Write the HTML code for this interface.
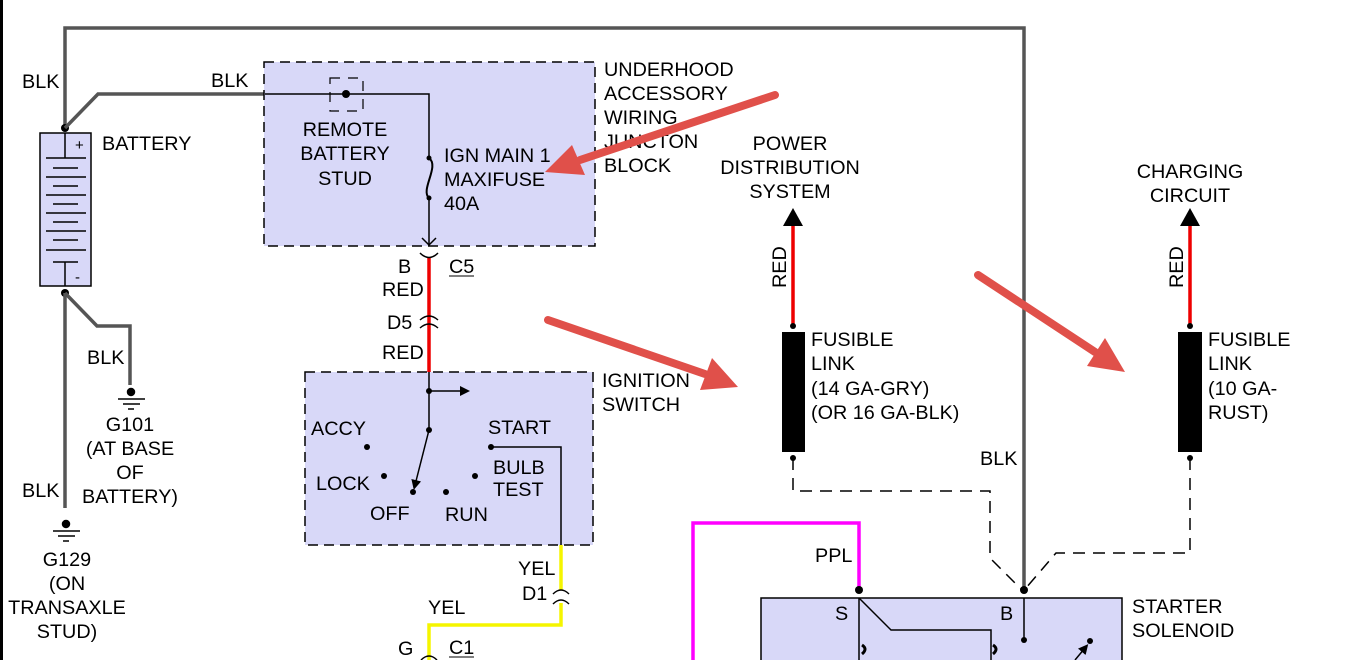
<!DOCTYPE html>
<html><head><meta charset="utf-8"><style>
html,body{margin:0;padding:0;background:#fff;}
svg{display:block;}
text{font-family:"Liberation Sans",Arial,sans-serif;font-size:19.8px;fill:#000;}
</style></head><body>
<svg width="1353" height="660" viewBox="0 0 1353 660" xmlns="http://www.w3.org/2000/svg">
<defs>
<marker id="ah" markerWidth="10" markerHeight="10" refX="5" refY="5" orient="auto" markerUnits="userSpaceOnUse" viewBox="0 0 10 10"><path d="M0,0 L10,5 L0,10 z" fill="#000"/></marker>
</defs>
<rect x="0" y="0" width="3" height="660" fill="#000"/>
<polyline points="65,128 65,28 1024,28 1024,590" fill="none" stroke="#555" stroke-width="3.5"/>
<rect x="40" y="133" width="51" height="153" fill="#d8d8f8" stroke="#000" stroke-width="1.5"/>
<line x1="65" y1="133" x2="65" y2="158" stroke="#000" stroke-width="1.5"/>
<line x1="65" y1="262" x2="65" y2="286" stroke="#000" stroke-width="1.5"/>
<g stroke="#000" stroke-width="1.5">
<line x1="46" y1="158" x2="86" y2="158"/><line x1="53" y1="168" x2="78" y2="168"/>
<line x1="46" y1="177" x2="86" y2="177"/><line x1="53" y1="186" x2="78" y2="186"/>
<line x1="46" y1="195" x2="86" y2="195"/><line x1="53" y1="204" x2="78" y2="204"/>
<line x1="46" y1="213" x2="86" y2="213"/><line x1="53" y1="222" x2="78" y2="222"/>
<line x1="46" y1="231" x2="86" y2="231"/><line x1="53" y1="240" x2="78" y2="240"/>
<line x1="46" y1="250" x2="86" y2="250"/><line x1="53" y1="262" x2="78" y2="262"/>
</g>
<text x="75" y="150" style="font-size:15px">+</text>
<text x="75" y="282" style="font-size:15px">-</text>
<circle cx="65" cy="128" r="4" fill="#000"/>
<circle cx="65" cy="293" r="4" fill="#000"/>
<text x="102" y="150">BATTERY</text>
<text x="22" y="88">BLK</text>
<polyline points="65,128 98,94 265,94" fill="none" stroke="#555" stroke-width="3.5"/>
<text x="211" y="87">BLK</text>
<polyline points="65,293 97,326 130,326 130,385" fill="none" stroke="#555" stroke-width="3.5"/>
<line x1="65" y1="293" x2="65" y2="508" stroke="#555" stroke-width="3.5"/>
<text x="87" y="364">BLK</text>
<text x="22" y="497">BLK</text>
<g stroke="#000" stroke-width="1.5">
<circle cx="131" cy="392" r="3.5" fill="#000"/><line x1="118" y1="399" x2="145" y2="399"/><line x1="123" y1="404" x2="140" y2="404"/><line x1="128" y1="409" x2="134" y2="409"/>
<circle cx="66" cy="524" r="3.5" fill="#000"/><line x1="53" y1="531" x2="80" y2="531"/><line x1="58" y1="536" x2="75" y2="536"/><line x1="63" y1="541" x2="69" y2="541"/>
</g>
<g text-anchor="middle">
<text x="130" y="431">G101</text><text x="130" y="455">(AT BASE</text><text x="130" y="479">OF</text><text x="130" y="503">BATTERY)</text>
<text x="67" y="566">G129</text><text x="67" y="590">(ON</text><text x="67" y="614">TRANSAXLE</text><text x="67" y="638">STUD)</text>
</g>
<rect x="264" y="62" width="331" height="184" fill="#d8d8f8" stroke="#000" stroke-width="1.5" stroke-dasharray="10,6"/>
<rect x="330" y="78" width="33" height="33" fill="none" stroke="#000" stroke-width="1.2" stroke-dasharray="10,8"/>
<polyline points="265,94 429,94 429,158" fill="none" stroke="#000" stroke-width="1.5"/>
<circle cx="346" cy="94" r="4" fill="#000"/>
<path d="M429,158 C440,166 420,190 429,198" fill="none" stroke="#000" stroke-width="2"/>
<circle cx="429" cy="158" r="2.5" fill="#000"/><circle cx="429" cy="198" r="2.5" fill="#000"/>
<line x1="429" y1="198" x2="429" y2="245" stroke="#000" stroke-width="1.5"/>
<polyline points="422,238 429,245 436,238" fill="none" stroke="#000" stroke-width="1.5"/>
<g text-anchor="middle"><text x="345" y="136">REMOTE</text><text x="345" y="160">BATTERY</text><text x="345" y="185">STUD</text></g>
<text x="444" y="162">IGN MAIN 1</text><text x="444" y="186">MAXIFUSE</text><text x="444" y="210">40A</text>
<text x="604" y="76">UNDERHOOD</text><text x="604" y="100">ACCESSORY</text><text x="604" y="124">WIRING</text><text x="604" y="148">JUNCTON</text><text x="604" y="172">BLOCK</text>
<line x1="429" y1="258" x2="429" y2="372" stroke="#e00" stroke-width="3.5"/>
<path d="M420,253 Q429,262 438,253" fill="none" stroke="#000" stroke-width="1.5"/>
<path d="M420,320 Q429,312 438,320 M420,328 Q429,320 438,328" fill="none" stroke="#000" stroke-width="1.5"/>
<text x="398" y="273">B</text><text x="449" y="273">C5</text><line x1="449" y1="276" x2="474" y2="276" stroke="#000"/>
<text x="382" y="296">RED</text><text x="387" y="329">D5</text><text x="382" y="359">RED</text>
<rect x="305" y="372" width="288" height="173" fill="#d8d8f8" stroke="#000" stroke-width="1.5" stroke-dasharray="10,6"/>
<line x1="429" y1="372" x2="429" y2="430" stroke="#000" stroke-width="1.5"/>
<line x1="429" y1="391" x2="465" y2="391" stroke="#000" stroke-width="1.5" marker-end="url(#ah)"/>
<circle cx="429" cy="391" r="3" fill="#000"/><circle cx="429" cy="430" r="3" fill="#000"/>
<line x1="429" y1="430" x2="415" y2="485" stroke="#000" stroke-width="1.5" marker-end="url(#ah)"/>
<g fill="#000"><circle cx="367" cy="447" r="3"/><circle cx="384" cy="476" r="3"/><circle cx="413" cy="492" r="3"/><circle cx="446" cy="492" r="3"/><circle cx="475" cy="476" r="3"/><circle cx="491" cy="447" r="3"/></g>
<polyline points="491,447 561,447 561,545" fill="none" stroke="#000" stroke-width="1.5"/>
<text x="311" y="435">ACCY</text><text x="316" y="490">LOCK</text><text x="370" y="520">OFF</text><text x="445" y="521">RUN</text>
<text x="488" y="434">START</text><text x="493" y="474">BULB</text><text x="493" y="496">TEST</text>
<text x="602" y="387">IGNITION</text><text x="602" y="411">SWITCH</text>
<polyline points="561,545 561,590" fill="none" stroke="#f5f500" stroke-width="3.5"/>
<polyline points="561,603 561,625 429,625 429,660" fill="none" stroke="#f5f500" stroke-width="3.5"/>
<path d="M553,594 Q561,586 569,594 M553,604 Q561,596 569,604" fill="none" stroke="#000" stroke-width="1.5"/>
<text x="518" y="575">YEL</text><text x="522" y="600">D1</text><text x="428" y="614">YEL</text>
<text x="398" y="655">G</text><text x="449" y="654">C1</text><line x1="449" y1="657" x2="474" y2="657" stroke="#000"/>
<path d="M421,660 Q429,652 437,660" fill="none" stroke="#000" stroke-width="1.5"/>
<g text-anchor="middle"><text x="790" y="150">POWER</text><text x="790" y="174">DISTRIBUTION</text><text x="790" y="198">SYSTEM</text>
<text x="1190" y="178">CHARGING</text><text x="1190" y="202">CIRCUIT</text></g>
<polygon points="783,226 803,226 793,208" fill="#000"/>
<line x1="793" y1="226" x2="793" y2="326" stroke="#e00" stroke-width="3.5"/>
<circle cx="793" cy="326" r="3" fill="#000"/>
<rect x="782" y="332" width="23" height="120" fill="#000"/>
<circle cx="793" cy="458" r="3" fill="#000"/>
<text transform="translate(786,288) rotate(-90)">RED</text>
<text x="811" y="346">FUSIBLE</text><text x="811" y="370">LINK</text><text x="811" y="395">(14 GA-GRY)</text><text x="811" y="419">(OR 16 GA-BLK)</text>
<polygon points="1180,226 1200,226 1190,208" fill="#000"/>
<line x1="1190" y1="226" x2="1190" y2="326" stroke="#e00" stroke-width="3.5"/>
<circle cx="1190" cy="326" r="3" fill="#000"/>
<rect x="1178" y="332" width="24" height="120" fill="#000"/>
<circle cx="1190" cy="458" r="3" fill="#000"/>
<text transform="translate(1183,288) rotate(-90)">RED</text>
<text x="1208" y="346">FUSIBLE</text><text x="1208" y="370">LINK</text><text x="1208" y="395">(10 GA-</text><text x="1208" y="419">RUST)</text>
<g fill="none" stroke="#000" stroke-width="1.5" stroke-dasharray="12,8">
<polyline points="793,458 793,491 990,491 990,558 1022,590"/>
<polyline points="1190,458 1190,553 1056,553 1026,588"/>
</g>
<text x="980" y="465">BLK</text>
<rect x="761" y="598" width="361" height="70" fill="#d8d8f8" stroke="#000" stroke-width="1.5"/>
<polyline points="693,660 693,523 859,523 859,590" fill="none" stroke="#f0f" stroke-width="3.5"/>
<text x="815" y="562">PPL</text>
<circle cx="859" cy="590" r="4" fill="#000"/><circle cx="1024" cy="590" r="4" fill="#000"/>
<polyline points="859,598 859,660" fill="none" stroke="#000" stroke-width="1.5"/>
<polyline points="859,598 891,630 991,630 991,660" fill="none" stroke="#000" stroke-width="1.5"/>
<line x1="1024" y1="598" x2="1024" y2="640" stroke="#000" stroke-width="1.5"/>
<circle cx="1024" cy="640" r="3" fill="#000"/><circle cx="1090" cy="641" r="3" fill="#000"/>
<path d="M862,645 q6,4 0,9 M993,645 q6,4 0,9" stroke="#000" stroke-width="3" fill="none"/>
<line x1="1075" y1="660" x2="1085" y2="648" stroke="#000" stroke-width="1.5" marker-end="url(#ah)"/>
<text x="835" y="620">S</text><text x="1000" y="620">B</text>
<text x="1132" y="613">STARTER</text><text x="1132" y="637">SOLENOID</text>
<g stroke="#e0504a" stroke-width="8" stroke-linecap="round" fill="#e0504a">
<line x1="775" y1="95" x2="580" y2="160"/>
<line x1="548" y1="320" x2="705" y2="374"/>
<line x1="978" y1="275" x2="1095" y2="352"/>
</g>
<g fill="#e0504a">
<polygon points="545,172 572,145 585,175"/>
<polygon points="738,387 700,390 712,358"/>
<polygon points="1125,372 1087,366 1105,338"/>
</g>
</svg>
</body></html>
